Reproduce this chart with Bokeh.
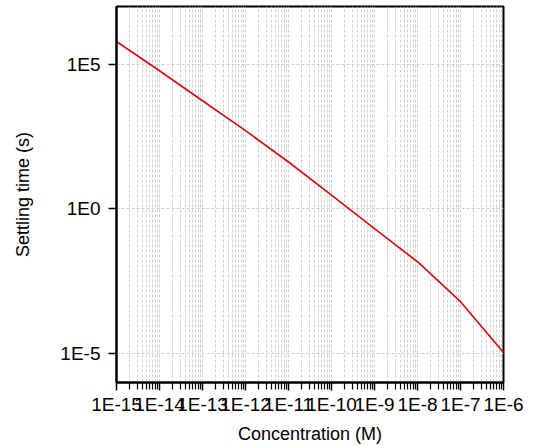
from bokeh.plotting import figure
from bokeh.models import FixedTicker, CustomJSTickFormatter
from bokeh.embed import file_html
from bokeh.resources import INLINE

# Settling time of the sensor versus analyte concentration
concentration = [1e-15, 1e-14, 1e-13, 1e-12, 1e-11, 1e-10, 1e-9, 1e-8, 1e-7, 1e-6]
settling_time = [6.2e5, 6.0e4, 5.5e3, 5.1e2, 42.0, 3.0, 0.21, 0.015, 6.2e-4, 1.1e-5]

x_major = [1e-15, 1e-14, 1e-13, 1e-12, 1e-11, 1e-10, 1e-9, 1e-8, 1e-7, 1e-6]
y_major = [1e-5, 1.0, 1e5]
x_minor = [k * d for d in x_major[:-1] for k in range(2, 10)]

FONT = "Liberation Sans"

p = figure(
    width=534, height=446,
    x_axis_type="log", y_axis_type="log",
    x_range=(1e-15, 1e-6), y_range=(1e-6, 1e7),
    output_backend="svg", toolbar_location=None,
    min_border_left=116, min_border_right=31,
    min_border_top=6, min_border_bottom=64,
)
p.background_fill_color = "white"
p.border_fill_color = "white"
p.outline_line_color = "black"
p.outline_line_width = 2

p.line(concentration, settling_time, line_color="#d41010", line_width=1.7)

fmt = CustomJSTickFormatter(code="return '1E' + Math.round(Math.log10(tick));")

p.xaxis.ticker = FixedTicker(ticks=x_major, minor_ticks=x_minor)
p.yaxis.ticker = FixedTicker(ticks=y_major, minor_ticks=[])
p.xaxis.formatter = fmt
p.yaxis.formatter = fmt

for ax in (p.xaxis, p.yaxis):
    ax.axis_line_color = "black"
    ax.axis_line_width = 2
    ax.major_tick_line_color = "black"
    ax.major_tick_line_width = 1.5
    ax.minor_tick_line_color = "black"
    ax.minor_tick_line_width = 1.2
    ax.major_tick_in = 0
    ax.minor_tick_in = 0
    ax.major_label_text_font = FONT
    ax.major_label_text_font_size = "19px"
    ax.major_label_text_color = "black"
    ax.axis_label_text_font = FONT
    ax.axis_label_text_font_size = "18px"
    ax.axis_label_text_font_style = "normal"
    ax.axis_label_text_color = "black"

p.xaxis.major_tick_out = 8
p.xaxis.minor_tick_out = 7
p.yaxis.major_tick_out = 8
p.yaxis.minor_tick_out = 0
p.xaxis.major_label_standoff = 3
p.yaxis.major_label_standoff = 8
p.xaxis.axis_label = "Concentration (M)"
p.yaxis.axis_label = "Settling time (s)"
p.xaxis.axis_label_standoff = 6
p.yaxis.axis_label_standoff = 24

p.xgrid.grid_line_color = "#cfcfcf"
p.xgrid.grid_line_dash = "3 2"
p.xgrid.grid_line_width = 1
p.xgrid.minor_grid_line_color = "#cfcfcf"
p.xgrid.minor_grid_line_dash = "3 2"
p.xgrid.minor_grid_line_width = 1
p.ygrid.grid_line_color = "#cfcfcf"
p.ygrid.grid_line_dash = "3 2"
p.ygrid.grid_line_width = 1
p.ygrid.minor_grid_line_color = None

open("out.html", "w").write(file_html(p, INLINE))
